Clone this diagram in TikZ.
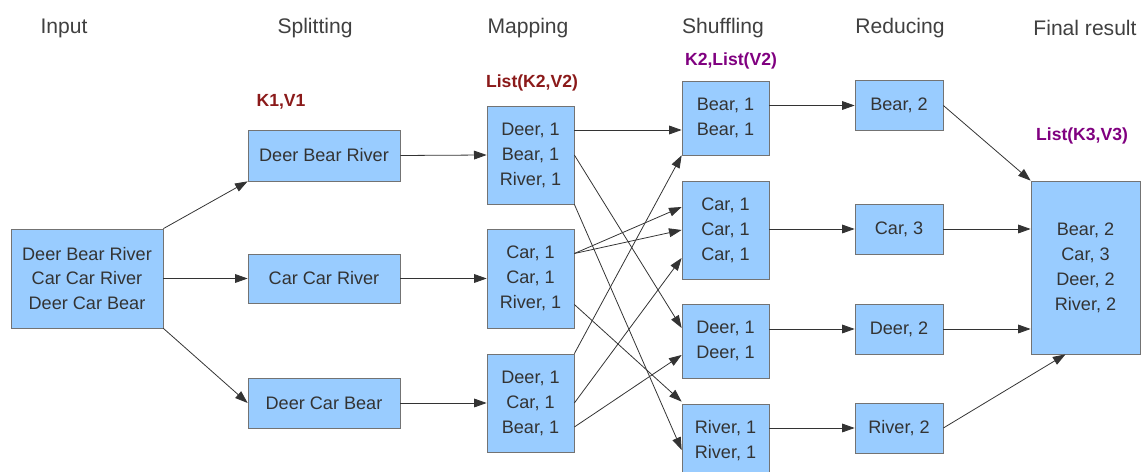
\documentclass[tikz,border=0pt]{standalone}
\usepackage{fontspec}
\setmainfont{Liberation Sans}
\usepackage{xcolor}
\usepackage{tikz}
\usetikzlibrary{arrows.meta}

\definecolor{boxblue}{HTML}{99CCFF}
\definecolor{keyred}{HTML}{8B1A1A}
\definecolor{keypurple}{HTML}{800080}

\begin{document}
\begin{tikzpicture}[x=0.02cm, y=-0.02cm,
  every node/.style={font=\fontsize{10.3}{14.2}\selectfont, text=black!80},
  box/.style={draw=black!55, fill=boxblue, align=center, inner sep=0pt},
  flow/.style={-{Triangle[length=7.2pt,width=5pt]}, draw=black!80, line width=0.45pt},
  stage/.style={font=\fontsize{12}{14}\selectfont, text=black!75},
  kv/.style={font=\bfseries\fontsize{10}{12}\selectfont}]
\def\u{0.02cm}
\useasboundingbox (0,0) rectangle (1142,472);

% Stage titles
\foreach \x/\t [count=\i] in {64/Input, 315/Splitting, 528/Mapping,
    723/Shuffling, 900/Reducing, 1085/Final result} {
  \node[stage] (title\i) at (\x,28) {\t};
}

% Key/value types
\node[kv, text=keyred] (kv1) at (281,102) {K1,V1};
\node[kv, text=keyred] (kv2) at (532,83) {List(K2,V2)};
\node[kv, text=keypurple] (kv3) at (731,61) {K2,List(V2)};
\node[kv, text=keypurple] (kv4) at (1082,136) {List(K3,V3)};

% Input
\node[box, minimum width=152*\u, minimum height=99*\u] (input) at (87,278.5)
  {Deer Bear River\\Car Car River\\Deer Car Bear};

% Splitting
\node[box, minimum width=152*\u, minimum height=51*\u] (split1) at (324,155.5) {Deer Bear River};
\node[box, minimum width=152*\u, minimum height=49*\u] (split2) at (324,278.5) {Car Car River};
\node[box, minimum width=152*\u, minimum height=50*\u] (split3) at (324,403) {Deer Car Bear};

% Mapping
\node[box, minimum width=87*\u, minimum height=98*\u] (map1) at (530.5,155) {Deer, 1\\Bear, 1\\River, 1};
\node[box, minimum width=87*\u, minimum height=99*\u] (map2) at (530.5,278.5) {Car, 1\\Car, 1\\River, 1};
\node[box, minimum width=87*\u, minimum height=98*\u] (map3) at (530.5,403) {Deer, 1\\Car, 1\\Bear, 1};

% Shuffling
\node[box, minimum width=87*\u, minimum height=74*\u] (shuf1) at (725.5,118) {Bear, 1\\Bear, 1};
\node[box, minimum width=87*\u, minimum height=98*\u] (shuf2) at (725.5,230) {Car, 1\\Car, 1\\Car, 1};
\node[box, minimum width=87*\u, minimum height=74*\u] (shuf3) at (725.5,341) {Deer, 1\\Deer, 1};
\node[box, minimum width=87*\u, minimum height=74*\u] (shuf4) at (725.5,441) {River, 1\\River, 1};

% Reducing
\foreach \y/\t [count=\i] in {105.5/{Bear, 2}, 229/{Car, 3}, 329/{Deer, 2}, 428/{River, 2}} {
  \node[box, minimum width=88*\u, minimum height=50*\u] (red\i) at (899,\y) {\t};
}

% Final result
\node[box, minimum width=109*\u, minimum height=173*\u] (final) at (1085.5,267.5)
  {Bear, 2\\Car, 3\\Deer, 2\\River, 2};

% Input -> splitting
\draw[flow] (input.north east) -- (split1.south west);
\draw[flow] (input.east) -- (split2.west);
\draw[flow] (input.south east) -- (split3.west);

% Splitting -> mapping
\foreach \i in {1,2,3} {
  \draw[flow] (split\i.east) -- (map\i.west);
}

% Mapping -> shuffling
\draw[flow] ([yshift=0.5cm]map1.east) -- ([yshift=0.5cm]map1.east -| shuf1.west);
\draw[flow] (map1.east) -- ([yshift=0.26cm]shuf3.west);
\draw[flow] (map1.south east) -- ([yshift=-0.18cm]shuf4.west);
\draw[flow] ([yshift=0.5cm]map2.east) -- ([yshift=0.46cm]shuf2.west);
\draw[flow] ([yshift=0.5cm]map2.east) -- (shuf2.west);
\draw[flow] ([yshift=-0.52cm]map2.east) -- ([yshift=0.04cm]shuf4.north west);
\draw[flow] (map3.north east) -- (shuf1.south west);
\draw[flow] (map3.east) -- ([yshift=-0.56cm]shuf2.west);
\draw[flow] ([yshift=-0.48cm]map3.east) -- ([yshift=-0.28cm]shuf3.west);

% Shuffling -> reducing
\foreach \i in {1,...,4} {
  \draw[flow] (red\i.west -| shuf\i.east) -- (red\i.west);
}

% Reducing -> final result
\draw[flow] (red1.east) -- (final.north west);
\draw[flow] (red2.east) -- (red2.east -| final.west);
\draw[flow] (red3.east) -- (red3.east -| final.west);
\draw[flow] (red4.east) -- ([xshift=-0.4cm]final.south);

\end{tikzpicture}
\end{document}
